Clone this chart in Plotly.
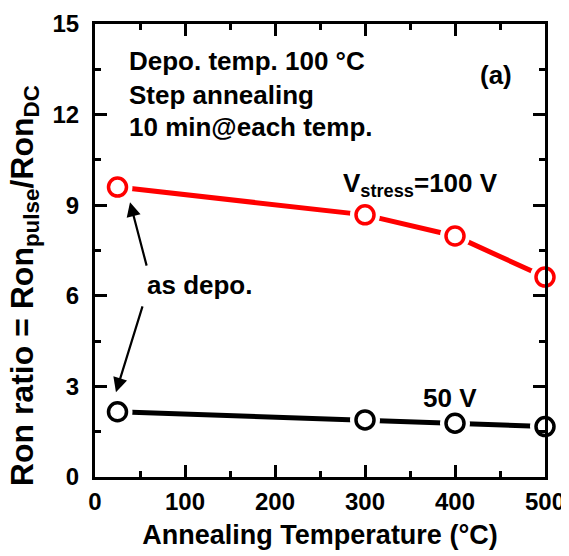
import plotly.graph_objects as go

temps = [25, 300, 400, 500]
ratio_100v = [9.6, 8.68, 7.98, 6.62]
ratio_50v = [2.16, 1.89, 1.78, 1.67]

x_ticks = [0, 100, 200, 300, 400, 500]
y_ticks = [0, 3, 6, 9, 12, 15]

FONT = "Arial, Liberation Sans, sans-serif"

fig = go.Figure()

def add_series(y, color):
    fig.add_trace(go.Scatter(x=temps, y=y, mode="lines",
                             line=dict(color=color, width=5), showlegend=False,
                             cliponaxis=False))
    fig.add_trace(go.Scatter(x=temps, y=y, mode="markers",
                             marker=dict(symbol="circle", size=30, color="white",
                                         line=dict(width=0)),
                             showlegend=False, cliponaxis=False))
    fig.add_trace(go.Scatter(x=temps, y=y, mode="markers",
                             marker=dict(symbol="circle", size=18, color="white",
                                         line=dict(color=color, width=3.5)),
                             showlegend=False, cliponaxis=False))

add_series(ratio_100v, "#ff0000")
add_series(ratio_50v, "#000000")

# invisible trace so the mirrored (top/right) tick axes are drawn
fig.add_trace(go.Scatter(x=[temps[0]], y=[ratio_50v[0]], xaxis="x2", yaxis="y2",
                         mode="markers", marker=dict(opacity=0), showlegend=False,
                         hoverinfo="skip"))

tick_common = dict(
    ticks="inside", ticklen=12, tickwidth=3, tickcolor="black",
    showgrid=False, zeroline=False, automargin=False,
)
xminor = dict(ticks="inside", ticklen=6, tickwidth=3, dtick=50, tick0=0, tickcolor="black")
yminor = dict(ticks="inside", ticklen=6, tickwidth=3, dtick=1.5, tick0=0, tickcolor="black")

fig.update_layout(
    xaxis=dict(range=[0, 500], tickvals=x_ticks, minor=xminor,
               showline=True, linewidth=3, linecolor="black", mirror=True,
               ticklabeloverflow="allow", ticklabelstandoff=1,
               tickfont=dict(family=FONT, size=24, color="black", weight="bold"),
               title=dict(text="Annealing Temperature (°C)",
                          font=dict(family=FONT, size=27, color="black", weight="bold"),
                          standoff=12),
               **tick_common),
    yaxis=dict(range=[0, 15], tickvals=y_ticks, minor=yminor,
               showline=True, linewidth=3, linecolor="black", mirror=True,
               ticklabeloverflow="allow", ticklabelstandoff=8,
               tickfont=dict(family=FONT, size=24, color="black", weight="bold"),
               **tick_common),
    xaxis2=dict(range=[0, 500], tickvals=x_ticks, minor=xminor, overlaying="x",
                side="top", showticklabels=False, anchor="y", **tick_common),
    yaxis2=dict(range=[0, 15], tickvals=y_ticks, minor=yminor, overlaying="y",
                side="right", showticklabels=False, anchor="x", **tick_common),
)

# y-axis title (placed as rotated text, centred like the reference)
fig.add_annotation(xref="paper", yref="paper", x=-0.157, y=0.422,
                   xanchor="center", yanchor="middle",
                   text="Ron ratio = Ron<sub>pulse</sub>/Ron<sub>DC</sub>",
                   textangle=-90, showarrow=False,
                   font=dict(family=FONT, size=32, color="black", weight="bold"))

tfont = dict(family=FONT, size=26, color="black", weight="bold")
notes = [
    ("Depo. temp. 100 °C", 35.0, 13.78),
    ("Step annealing", 35.0, 12.66),
    ("10 min@each temp.", 35.0, 11.6),
]
for text, x, y in notes:
    fig.add_annotation(x=x, y=y, text=text, showarrow=False, xanchor="left",
                       yanchor="middle", font=tfont)
fig.add_annotation(x=446, y=13.3, text="(a)", showarrow=False, font=tfont)
fig.add_annotation(x=362, y=9.7, text="V<sub>stress</sub>=100 V", showarrow=False,
                   font=tfont)
fig.add_annotation(x=394, y=2.6, text="50 V", showarrow=False, font=tfont)
fig.add_annotation(x=116, y=6.35, text="as depo.", showarrow=False, font=tfont)

for (hx, hy, tx, ty) in [(38.9, 9.1, 57.8, 6.95), (23.3, 2.81, 53.3, 5.7)]:
    fig.add_annotation(x=hx, y=hy, ax=tx, ay=ty, axref="x", ayref="y",
                       xref="x", yref="y", text="", showarrow=True,
                       arrowhead=2, arrowsize=1.3, arrowwidth=2.2,
                       arrowcolor="black", standoff=0, startstandoff=0)

# the page adds an 8px body margin, so the figure is sized to compensate
fig.update_layout(
    width=561, height=548,
    margin=dict(l=87, r=24, t=16, b=79),
    paper_bgcolor="white", plot_bgcolor="white",
    font=dict(family=FONT, color="black"),
    showlegend=False,
)

fig.write_html("out.html")
